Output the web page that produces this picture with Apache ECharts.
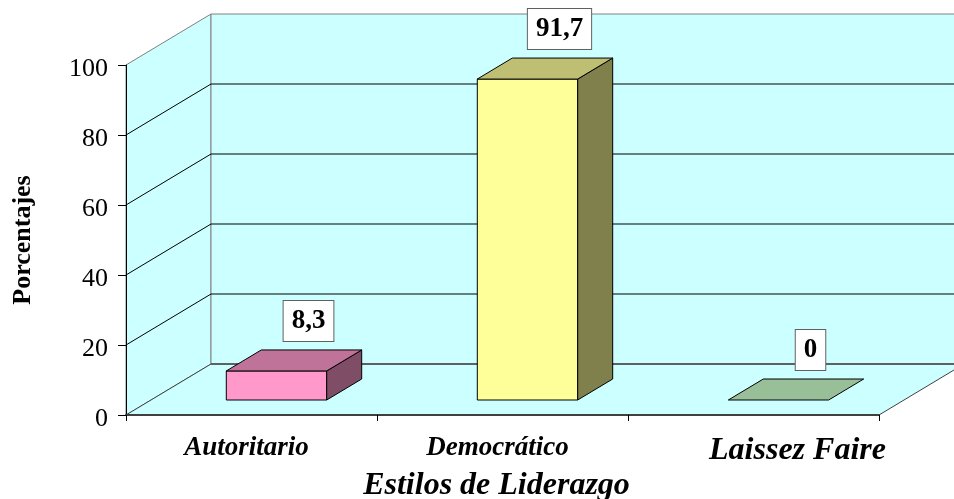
<!DOCTYPE html>
<html>
<head>
<meta charset="utf-8">
<script src="https://cdn.jsdelivr.net/npm/echarts@6/dist/echarts.min.js"></script>
<style>html,body{margin:0;padding:0;background:#fff}#c{width:954px;height:499px}</style>
</head>
<body>
<div id="c"></div>
<script>
const categories = ['Autoritario', 'Democrático', 'Laissez Faire'];
const values = [8.3, 91.7, 0];
const yTicks = [0, 20, 40, 60, 80, 100];

const frontColors = ['#FF99CC', '#FFFF99', '#CCFFCC'];
const topColors = ['#BF7399', '#BFBF73', '#99BF99'];
const sideColors = ['#804D66', '#80804D', '#668066'];

const DX = 85, DY = -51;
const F0 = 15 / 51, F1 = 36 / 51;
const SERIF = '"Liberation Serif", "Times New Roman", serif';
const WALL = '#CCFFFF';

function renderWalls(params, api) {
  const cs = params.coordSys;
  const x0 = cs.x, x1 = cs.x + cs.width, yt = cs.y, yb = cs.y + cs.height;
  const W = 1200;
  return {
    type: 'group',
    children: [
      { type: 'polygon', shape: { points: [[x0, yb], [x0, yt], [x0 + DX, yt + DY], [x0 + DX, yb + DY]] },
        style: { fill: WALL, stroke: '#808080', lineWidth: 1 } },
      { type: 'polygon', shape: { points: [[x0 + DX, yt + DY], [W, yt + DY], [W, yb + DY], [x0 + DX, yb + DY]] },
        style: { fill: WALL, stroke: '#808080', lineWidth: 1 } },
      { type: 'polygon', shape: { points: [[x0, yb], [x1, yb], [x1 + DX, yb + DY], [x0 + DX, yb + DY]] },
        style: { fill: WALL, stroke: '#404040', lineWidth: 1 } },
      { type: 'line', shape: { x1: x0 + DX, y1: yb + DY, x2: W, y2: yb + DY },
        style: { stroke: '#606060', lineWidth: 2 } }
    ]
  };
}

function renderGrid(params, api) {
  const v = api.value(1);
  const p = api.coord([0, v]);
  const cs = params.coordSys;
  const x0 = cs.x;
  const y = p[1];
  return {
    type: 'group',
    children: [
      { type: 'line', shape: { x1: x0, y1: y, x2: x0 + DX, y2: y + DY }, style: { stroke: '#000', lineWidth: 1 } },
      { type: 'line', shape: { x1: x0 + DX, y1: y + DY, x2: 1200, y2: y + DY }, style: { stroke: '#000', lineWidth: 1 } }
    ]
  };
}

function renderBar(params, api) {
  const i = api.value(0), v = api.value(1);
  const base = api.coord([i, 0]);
  const top = api.coord([i, v]);
  const band = api.size([1, 0])[0];
  const hw = band * 0.2;
  const fx = base[0] + DX * F0;
  const fyb = base[1] + DY * F0;
  const fyt = top[1] + DY * F0;
  const ddx = DX * (F1 - F0), ddy = DY * (F1 - F0);
  const st = { stroke: '#000', lineWidth: 1 };
  const children = [];
  if (v > 0) {
    children.push({ type: 'polygon', shape: { points: [[fx - hw, fyb], [fx + hw, fyb], [fx + hw, fyt], [fx - hw, fyt]] },
      style: Object.assign({ fill: frontColors[i] }, st) });
    children.push({ type: 'polygon', shape: { points: [[fx + hw, fyb], [fx + hw + ddx, fyb + ddy], [fx + hw + ddx, fyt + ddy], [fx + hw, fyt]] },
      style: Object.assign({ fill: sideColors[i] }, st) });
  }
  children.push({ type: 'polygon', shape: { points: [[fx - hw, fyt], [fx + hw, fyt], [fx + hw + ddx, fyt + ddy], [fx - hw + ddx, fyt + ddy]] },
    style: Object.assign({ fill: topColors[i] }, st) });
  children.push({ type: 'text', x: fx + 32, y: fyt - 50, z2: 10,
    style: { text: String(v).replace('.', ','), font: 'bold 27px ' + SERIF, fill: '#000',
      align: 'center', verticalAlign: 'middle', backgroundColor: '#fff', borderColor: '#606060', borderWidth: 1,
      padding: [5, 8, 5, 8], lineHeight: 30 } });
  return { type: 'group', children: children };
}

const chart = echarts.init(document.getElementById('c'));
chart.setOption({
  animation: false,
  backgroundColor: '#fff',
  grid: { left: 126, right: 75, top: 65, bottom: 84, containLabel: false, outerBoundsMode: 'none' },
  xAxis: {
    type: 'category',
    data: categories,
    zlevel: 1,
    name: 'Estilos de Liderazgo',
    nameLocation: 'middle',
    nameGap: 55,
    nameMoveOverlap: false,
    nameTextStyle: { fontFamily: SERIF, fontWeight: 'bold', fontStyle: 'italic', fontSize: 32, color: '#000', padding: [0, 12, 0, 0] },
    axisLine: { show: true, lineStyle: { color: '#404040', width: 2 } },
    axisTick: { show: true, length: 6, lineStyle: { color: '#000', width: 1 } },
    axisLabel: {
      margin: 20,
      formatter: function (v) { return v === 'Laissez Faire' ? '{b|' + v + '}' : '{a|' + v + '}'; },
      rich: {
        a: { fontFamily: SERIF, fontWeight: 'bold', fontStyle: 'italic', fontSize: 27, color: '#000', padding: [0, 10, 0, 0] },
        b: { fontFamily: SERIF, fontWeight: 'bold', fontStyle: 'italic', fontSize: 32, color: '#000', padding: [0, 0, 0, 88] }
      }
    },
    splitLine: { show: false }
  },
  yAxis: {
    type: 'value',
    min: yTicks[0],
    max: yTicks[yTicks.length - 1],
    interval: yTicks[1] - yTicks[0],
    zlevel: 1,
    name: 'Porcentajes',
    nameLocation: 'middle',
    nameGap: 90,
    nameRotate: 90,
    nameMoveOverlap: false,
    nameTextStyle: { fontFamily: SERIF, fontWeight: 'bold', fontSize: 26, color: '#000' },
    axisLine: { show: true, onZero: false, lineStyle: { color: '#000', width: 1 } },
    axisTick: { show: true, length: 8, lineStyle: { color: '#000', width: 1 } },
    axisLabel: {
      margin: 18,
      formatter: function (v) { return '{n|' + v + '}'; },
      rich: { n: { fontFamily: SERIF, fontSize: 26, color: '#000', padding: [8, 0, 0, 0] } }
    },
    splitLine: { show: false }
  },
  series: [
    { type: 'custom', z: 1, clip: false, silent: true, renderItem: renderWalls, data: [[0, 0]] },
    { type: 'custom', z: 1.5, clip: false, silent: true, renderItem: renderGrid,
      data: yTicks.slice(1, -1).map(function (t) { return [0, t]; }) },
    { type: 'custom', z: 3, clip: false, silent: true, renderItem: renderBar,
      data: values.map(function (v, i) { return [i, v]; }) }
  ]
});
</script>
</body>
</html>
